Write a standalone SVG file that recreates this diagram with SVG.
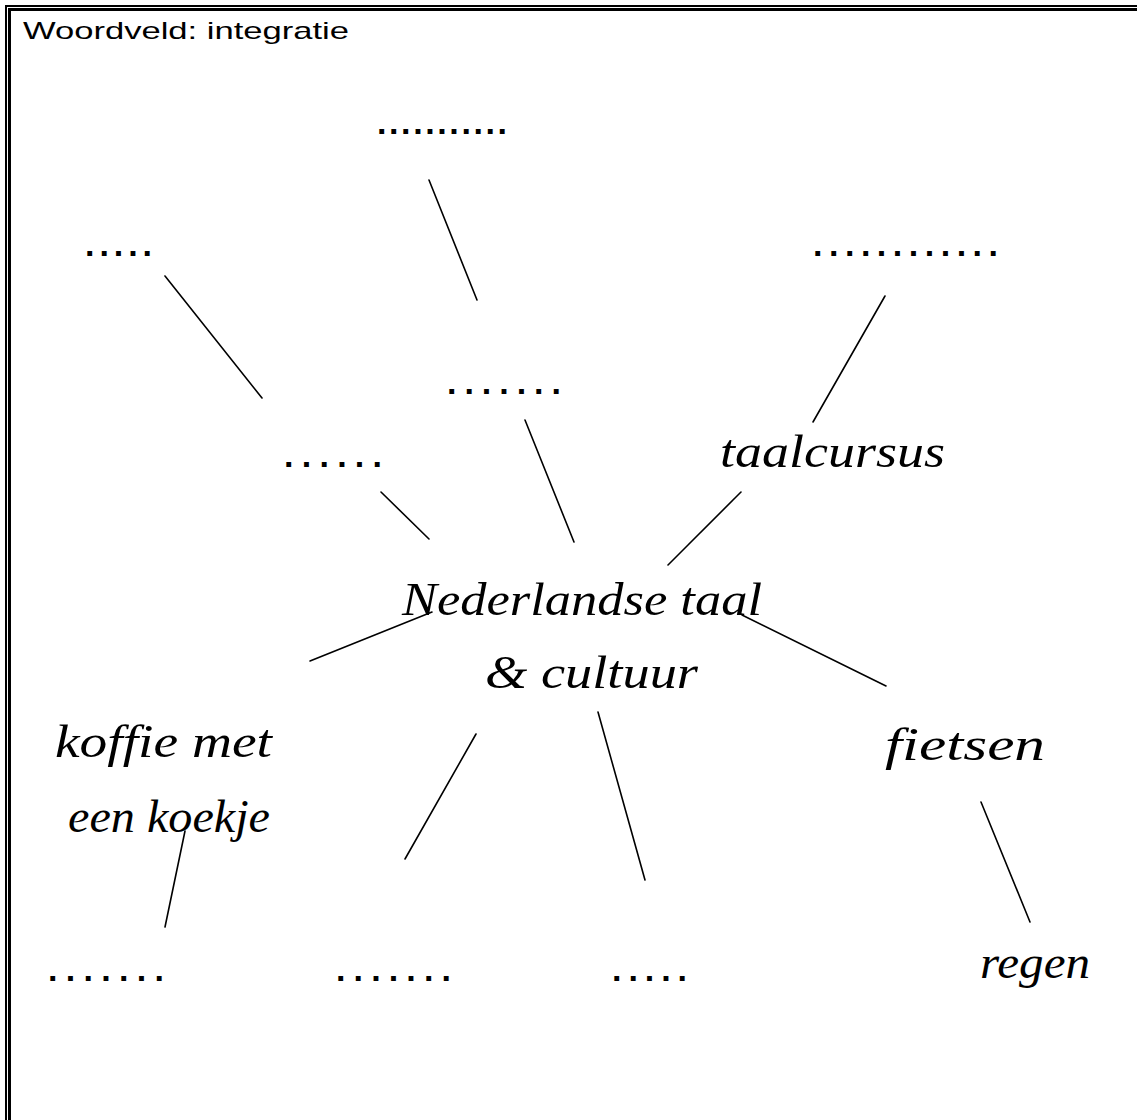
<svg xmlns="http://www.w3.org/2000/svg" width="1137" height="1120" viewBox="0 0 1137 1120">
<style>
.frame{fill:none;stroke:#000}
.title{font-family:"Liberation Sans","DejaVu Sans",sans-serif;font-size:24px;fill:#000}
.dots{font-family:"Liberation Sans",sans-serif;font-weight:bold;font-size:34px;fill:#000}
.word{font-family:"Liberation Serif","DejaVu Serif",serif;font-style:italic;font-size:46px;fill:#000}
.conn line{stroke:#000;stroke-width:1.6;stroke-linecap:round}
</style>
<rect width="1137" height="1120" fill="#fff"/>
<rect class="frame" x="6" y="6" width="1200" height="1200" stroke-width="2"/>
<rect class="frame" x="9.5" y="9.5" width="1200" height="1200" stroke-width="3"/>
<text class="title" x="23" y="39" textLength="326" lengthAdjust="spacingAndGlyphs">Woordveld: integratie</text>
<g class="conn" id="connectors">
<line x1="429" y1="180" x2="477" y2="300"/>
<line x1="165" y1="276" x2="262" y2="398"/>
<line x1="885" y1="296" x2="813" y2="422"/>
<line x1="525" y1="420" x2="574" y2="542"/>
<line x1="381" y1="492" x2="429" y2="539"/>
<line x1="741" y1="492" x2="668" y2="565"/>
<line x1="310" y1="661" x2="432" y2="612"/>
<line x1="742" y1="615" x2="886" y2="686"/>
<line x1="476" y1="734" x2="405" y2="859"/>
<line x1="598" y1="712" x2="645" y2="880"/>
<line x1="185" y1="831" x2="165" y2="927"/>
<line x1="981" y1="802" x2="1030" y2="922"/>
</g>
<g id="n-top"><text class="dots" x="377" y="134" textLength="130" lengthAdjust="spacing">...........</text></g>
<g id="n-left"><text class="dots" x="85" y="256" textLength="67" lengthAdjust="spacing">.....</text></g>
<g id="n-right"><text class="dots" x="813" y="256" textLength="185" lengthAdjust="spacing">............</text></g>
<g id="n-mid"><text class="dots" x="447" y="394" textLength="114" lengthAdjust="spacing">.......</text></g>
<g id="n-leftmid"><text class="dots" x="284" y="467" textLength="98" lengthAdjust="spacing">......</text></g>
<g id="n-taalcursus"><text class="word" x="720" y="467" textLength="225" lengthAdjust="spacingAndGlyphs">taalcursus</text></g>
<g id="n-center">
<text class="word" x="402" y="615" textLength="360" lengthAdjust="spacingAndGlyphs">Nederlandse taal</text>
<text class="word" x="485" y="688" textLength="213" lengthAdjust="spacingAndGlyphs">&amp; cultuur</text>
</g>
<g id="n-koffie">
<text class="word" x="55" y="757" textLength="217" lengthAdjust="spacingAndGlyphs">koffie met</text>
<text class="word" x="68" y="832" textLength="202" lengthAdjust="spacingAndGlyphs">een koekje</text>
</g>
<g id="n-fietsen"><text class="word" x="885" y="760" textLength="160" lengthAdjust="spacingAndGlyphs">fietsen</text></g>
<g id="n-regen"><text class="word" x="980" y="978" textLength="110" lengthAdjust="spacingAndGlyphs">regen</text></g>
<g id="n-bot1"><text class="dots" x="48" y="981" textLength="116" lengthAdjust="spacing">.......</text></g>
<g id="n-bot2"><text class="dots" x="336" y="981" textLength="115" lengthAdjust="spacing">.......</text></g>
<g id="n-bot3"><text class="dots" x="612" y="981" textLength="75" lengthAdjust="spacing">.....</text></g>
</svg>
